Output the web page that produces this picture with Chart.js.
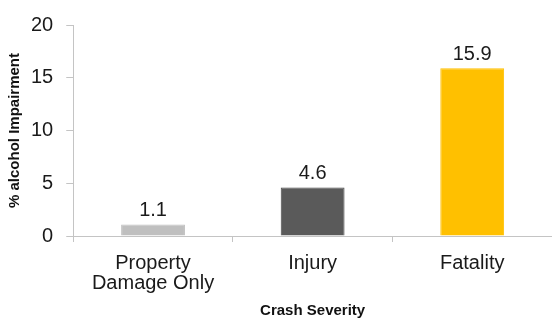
<!DOCTYPE html>
<html>
<head>
<meta charset="utf-8">
<script src="https://cdn.jsdelivr.net/npm/chart.js@4"></script>
<style>
  html, body { margin: 0; padding: 0; background: #fff; }
  #wrap { width: 552px; height: 318px; }
</style>
</head>
<body>
<div id="wrap"><canvas id="myChart"></canvas></div>
<script>
"use strict";
const categories = [["Property", "Damage Only"], "Injury", "Fatality"];
const impairment = [1.1, 4.6, 15.9];
const barColors = ["#bfbfbf", "#5a5a5a", "#ffc000"];
const yTicks = [0, 5, 10, 15, 20];

// draws the value above each bar
const valueLabels = {
  id: "valueLabels",
  afterDatasetsDraw(chart) {
    const ctx = chart.ctx;
    ctx.save();
    ctx.font = "20px 'Liberation Sans', Arial, sans-serif";
    ctx.fillStyle = "#1a1a1a";
    ctx.textAlign = "center";
    ctx.textBaseline = "alphabetic";
    chart.getDatasetMeta(0).data.forEach((bar, i) => {
      ctx.fillText(impairment[i].toFixed(1), bar.x, bar.y - 8);
    });
    ctx.restore();
  },
};

const data = {
  labels: categories,
  datasets: [
    {
      data: impairment,
      backgroundColor: barColors,
      borderColor: ["#bfbfbf", "#454545", "#ffc000"],
      borderWidth: 1,
      categoryPercentage: 1,
      barPercentage: 0.4,
    },
  ],
};

const config = {
  type: "bar",
  data: data,
  plugins: [valueLabels],
  options: {
    responsive: true,
    maintainAspectRatio: false,
    animation: false,
    layout: {
      padding: { top: 13, right: -3, left: 6, bottom: -2 },
    },
    plugins: {
      legend: { display: false },
      tooltip: { enabled: false },
    },
    scales: {
      y: {
        min: 0,
        max: 20,
        afterBuildTicks: (axis) => {
          axis.ticks = yTicks.map((v) => ({ value: v }));
        },
        title: {
          display: true,
          text: "% alcohol Impairment",
          color: "#111",
          font: { family: "'Liberation Sans', Arial", size: 15, weight: "bold" },
          padding: { top: 0, bottom: -6 },
        },
        ticks: {
          color: "#1a1a1a",
          padding: 13,
          font: { family: "'Liberation Sans', Arial", size: 20 },
        },
        grid: {
          drawOnChartArea: false,
          tickLength: 7,
          color: "#c4c4c4",
        },
        border: { color: "#c4c4c4" },
      },
      x: {
        title: {
          display: true,
          text: "Crash Severity",
          color: "#111",
          font: { family: "'Liberation Sans', Arial", size: 15, weight: "bold" },
          padding: { top: -2, bottom: 0 },
        },
        ticks: {
          color: "#1a1a1a",
          padding: 11,
          font: { family: "'Liberation Sans', Arial", size: 20, lineHeight: 1.0 },
        },
        grid: {
          drawOnChartArea: false,
          tickLength: 6,
          color: "#c4c4c4",
        },
        border: { color: "#c4c4c4" },
      },
    },
  },
};

const myChart = new Chart(document.getElementById("myChart"), config);
</script>
</body>
</html>
